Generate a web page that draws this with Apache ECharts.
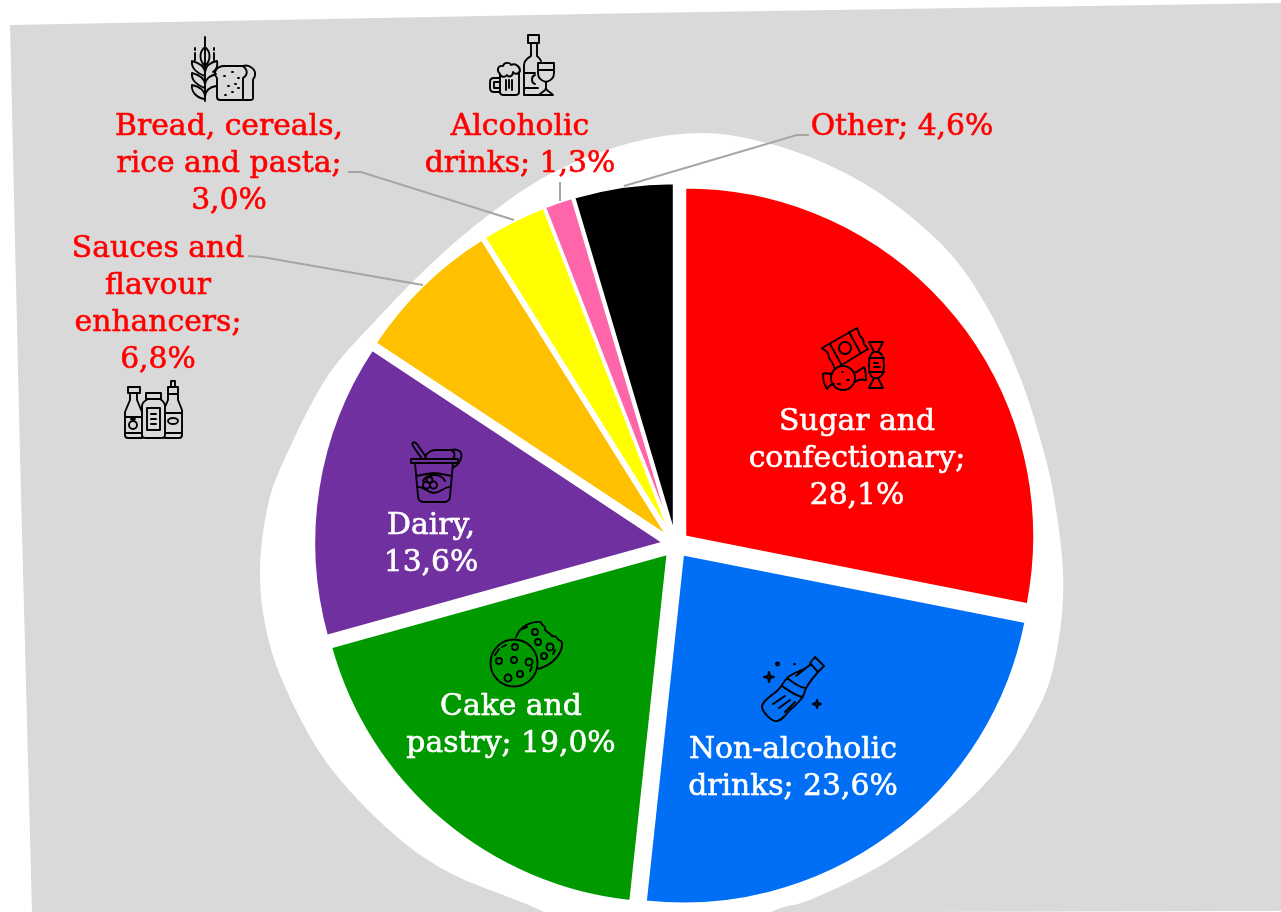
<!DOCTYPE html>
<html><head><meta charset="utf-8">
<style>html,body{margin:0;padding:0;background:#fff}#c{width:1281px;height:912px}</style>
<script src="https://cdn.jsdelivr.net/npm/echarts@6/dist/echarts.min.js"></script>
</head><body><div id="c"></div>
<script>
const categories=['Sugar and confectionary','Non-alcoholic drinks','Cake and pastry','Dairy','Sauces and flavour enhancers','Bread, cereals, rice and pasta','Alcoholic drinks','Other'];
const values=[28.1,23.6,19.0,13.6,6.8,3.0,1.3,4.6];
const colors=['#FF0000','#006EF5','#009A00','#7030A0','#FFC000','#FFFF00','#FF66AA','#000000'];
const labelPrefixes=['Sugar and\nconfectionary;\n','Non-alcoholic\ndrinks; ','Cake and\npastry; ','Dairy,\n','Sauces and\nflavour\nenhancers;\n','Bread, cereals,\nrice and pasta;\n','Alcoholic\ndrinks; ','Other; '];
const labelColors=['#fff','#fff','#fff','#fff','#FF0000','#FF0000','#FF0000','#FF0000'];
const labelAnchors=[[857,459],[793,769],[511,726],[431,545],[158,305],[229,164],[520,146],[902,127]];
const leaderLines=[null,null,null,null,[[248,256],[262,257],[423,285]],[[348,172],[361,172],[514,220]],[[560,182],[560,192],[560,201]],[[809,135],[797,135],[624,186]]];

const greyShape=[[10,25],[640,13],[1281,3],[1281,911],[900,912],[32,912],[20,456]];
const blobShape=[[701,133],[763,142],[824,163],[885,197],[947,250],[987,307],[1020,377],[1045,456],[1057,516],[1063,573],[1061,623],[1050,680],[1031,722],[1004,762],[959,809],[885,863],[812,899],[771,912],[700,950],[600,950],[544,912],[450,873],[388,829],[327,763],[286,689],[266,629],[260,569],[268,505],[286,456],[327,377],[376,320],[430,265],[486,217],[552,173],[630,143]];

function splinePath(pts){
  const n=pts.length;let d='M'+pts[0][0]+' '+pts[0][1];
  for(let i=0;i<n;i++){
    const a=pts[(i-1+n)%n],b=pts[i],c=pts[(i+1)%n],e=pts[(i+2)%n];
    d+='C'+(b[0]+(c[0]-a[0])/6)+' '+(b[1]+(c[1]-a[1])/6)+' '+(c[0]-(e[0]-b[0])/6)+' '+(c[1]-(e[1]-b[1])/6)+' '+c[0]+' '+c[1];
  }
  return d+'Z';
}
echarts.graphic.registerShape('blob',echarts.graphic.extendPath(splinePath(blobShape),{}));

const iconPaths=[
 'M205 37V101M205 47C199 52 199 60 205 66C211 60 211 52 205 47M195 53V60M214 53V60M195 48V50M214 48V50M205 72C204 64 196 62 192 61C191 68 197 73 205 76M205 84C204 76 196 74 192 73C191 80 197 85 205 88M205 96C204 88 197 86 192 85C191 92 197 98 205 99M205 72C206 64 212 62 217 61C218 66 216 70 213 72M205 84C206 78 210 76 216 74M205 96C206 90 210 87 216 86M217 78C212 72 217 67 223 66H243C250 64 256 70 255 75C255 78 253 78 253 80V98C253 100 252 100 250 100H220C218 100 217 99 217 97ZM243 66C248 70 248 75 243 78V100M224 76h1M232 72h1M238 78h1M228 86h1M235 84h1M225 95h1M232 92h1M238 88h1',
 'M528 35H539V43H528ZM531 43V56C528 58 524 60 524 65V95H542M537 43V56C538 57 540 58 541 61M524 73H535M524 88H538M535 75C531 76 531 83 535 84M538 63H554V73C554 79 550 81 546 82C542 81 538 79 538 73ZM538 70H554M546 82V88C546 91 541 92 539 95H553C551 92 546 91 546 88M500 78H494C491 78 490 80 490 82V88C490 91 492 92 494 92H500M500 74V92C500 94 502 95 504 95H515C517 95 519 94 519 92V72M500 74C496 70 498 65 503 66C504 62 510 62 511 65C515 63 520 66 520 71C518 75 514 74 513 72C513 76 509 78 507 75C505 78 501 77 500 74M500 82H494V88H500M506 80V90M512 80V90M509 80V88',
 'M128 387H140V393H128ZM130 393V400L125 412V435C125 437 126 438 128 438H142M137 393V400L142 412V438M125 417H142M125 433H142M129 425a4 4 0 1 0 8 0a4 4 0 1 0 -8 0M131 419h4M146 393H161V399H146ZM148 399C144 401 142 403 142 406V435C142 437 144 438 146 438H161C163 438 165 437 165 435V406C165 403 163 401 160 399M147 408H160V430H147ZM151 414H156M151 419H156M151 424H156M171 381H175V387H171ZM168 387H178V394H168ZM168 394V400L165 407M178 394V400L182 410V435C182 437 181 438 179 438H165M165 413H182M165 433H182M168 421a5 3 0 1 0 10 0a5 3 0 1 0 -10 0',
 'M822 348L857 328L860 336L863 339L864 344L868 349L835 369L832 362L829 358L828 353ZM830 344L841 364M849 332L860 352M839 348a6 6 0 1 0 12 0a6 6 0 1 0 -12 0M869 342H883L878 352H874ZM874 352C870 353 869 358 869 365C869 372 870 377 874 378H878C882 377 884 372 884 365C884 358 882 353 878 352M874 378L869 388H883L878 378M869 358H884M869 372H884M874 363h4M874 367h6M831 378a12 12 0 1 0 24 0a12 12 0 1 0 -24 0M832 374C828 374 825 372 823 374C823 380 825 386 827 389C829 386 831 384 834 384M854 373C858 372 862 368 864 367C866 371 866 376 866 380C862 379 858 379 854 383M842 372h1M847 380h2M838 384h2',
 'M815 657L824 666L818 672L810 663ZM811 664C803 672 795 671 787 678C782 684 780 690 773 694C768 698 762 702 762 707C763 713 772 722 777 721C781 721 785 716 790 710C796 705 802 700 804 694C805 688 809 682 818 672M787 678C792 682 800 688 806 688M782 686C788 690 795 696 803 697M773 704L785 696M779 708L790 700M785 712L795 702M796 676L806 668M769 672L770 676L774 677L770 678L769 682L768 678L764 677L768 676ZM817 700L818 703L821 704L818 705L817 708L816 705L813 704L816 703ZM776 664a1.5 1.5 0 1 0 3 0a1.5 1.5 0 1 0 -3 0M794 664h1',
 'M490.5 663a23.5 23.5 0 1 0 47 0a23.5 23.5 0 1 0 -47 0M516 637C520 627 530 621 541 622C541 626 545 625 545 628C544 632 549 632 550 634C552 638 556 635 557 638C558 641 562 640 562 643C563 652 553 666 537 669M512 647a3 3 0 1 0 6 0a3 3 0 1 0 -6 0M496 661a3 3 0 1 0 6 0a3 3 0 1 0 -6 0M511 660a3 3 0 1 0 6 0a3 3 0 1 0 -6 0M525.5 662a3.5 3.5 0 1 0 7 0a3.5 3.5 0 1 0 -7 0M517 674a3 3 0 1 0 6 0a3 3 0 1 0 -6 0M504.5 678a3.5 3.5 0 1 0 7 0a3.5 3.5 0 1 0 -7 0M532 632a3 3 0 1 0 6 0a3 3 0 1 0 -6 0M535 642a3 3 0 1 0 6 0a3 3 0 1 0 -6 0M546.5 647a3.5 3.5 0 1 0 7 0a3.5 3.5 0 1 0 -7 0M541 656a3 3 0 1 0 6 0a3 3 0 1 0 -6 0M495 655L499 649M502 647L506 645M530 671L532 667M555 650L553 654M522 629L527 627',
 'M411 459H458V463H411ZM422 459L413 446C411 442 414 441 417 444L426 457M425 459C425 454 430 450 436 450H451C458 448 463 452 461 458C460 463 456 466 453 468M451 450C456 452 455 458 452 459M415 463L418 496C418 500 420 502 424 502H444C448 502 450 500 450 496L453 463M416 476C422 475 425 474 434 473C443 474 446 475 452 476M417 487C424 486 426 492 434 493C442 492 445 486 451 487M423 481C425 477 429 475 434 475C439 475 443 477 445 481M423 485a3.5 3.5 0 1 0 7 0a3.5 3.5 0 1 0 -7 0M430 485a3.5 3.5 0 1 0 7 0a3.5 3.5 0 1 0 -7 0M426.5 480a3 3 0 1 0 6 0a3 3 0 1 0 -6 0'
];
iconPaths.forEach((p,i)=>echarts.graphic.registerShape('icon'+i,echarts.graphic.extendPath(p,{})));

const fmt=v=>v.toFixed(1).replace('.',',')+'%';
const chart=echarts.init(document.getElementById('c'),null,{renderer:'canvas'});
chart.setOption({
 animation:false,
 backgroundColor:'#fff',
 graphic:{elements:[
  {type:'polygon',z:0,silent:true,shape:{points:greyShape},style:{fill:'#D9D9D9'}},
  {type:'blob',z:1,silent:true,style:{fill:'#fff'}},
  ...iconPaths.map((p,i)=>({type:'icon'+i,z:100,silent:true,style:{fill:'none',stroke:'#000',lineWidth:1.9,lineJoin:'round',lineCap:'round'}}))
 ]},
 series:[{
  type:'pie',
  center:[675.6,544.5],
  radius:[0,349],
  startAngle:90,
  clockwise:true,
  selectedMode:'multiple',
  selectedOffset:12.5,
  itemStyle:{borderColor:'#fff',borderWidth:2},
  emphasis:{disabled:true},
  label:{show:false},
  labelLine:{show:false},
  data:values.map((v,i)=>({name:categories[i],value:v,selected:true,itemStyle:{color:colors[i]}}))
 },{
  // Transparent twin pie that carries the labels and leader lines (they are not shifted by the exploded slices).
  type:'pie',
  center:[675.6,544.5],
  radius:[0,349],
  startAngle:90,
  clockwise:true,
  z:3,
  silent:true,
  avoidLabelOverlap:false,
  itemStyle:{color:'rgba(0,0,0,0)'},
  emphasis:{disabled:true},
  data:values.map((v,i)=>({
    name:categories[i],value:v,
    label:{show:true,position:'outside',formatter:labelPrefixes[i]+fmt(v),color:labelColors[i],fontFamily:'DejaVu Serif',fontSize:29.8,lineHeight:37,align:'center',textBorderColor:labelColors[i],textBorderWidth:0.6},
    labelLine:{show:!!leaderLines[i],smooth:false,lineStyle:{color:'#A6A6A6',width:2}}
  })),
  labelLayout:p=>{
    const i=p.dataIndex;
    const r={x:labelAnchors[i][0],y:labelAnchors[i][1],align:'center',verticalAlign:'middle'};
    if(leaderLines[i]) r.labelLinePoints=leaderLines[i];
    return r;
  }
 }]
});
</script></body></html>
